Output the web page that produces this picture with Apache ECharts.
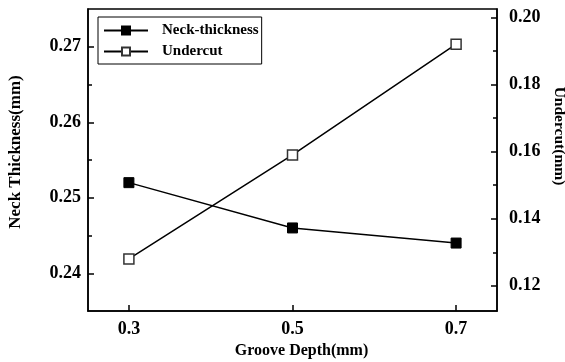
<!DOCTYPE html>
<html>
<head>
<meta charset="utf-8">
<script src="https://cdn.jsdelivr.net/npm/echarts@6/dist/echarts.min.js"></script>
<style>html,body{margin:0;padding:0;background:#fff}#c{width:565px;height:362px}</style>
</head>
<body>
<div id="c"></div>
<script>
const depths = [0.3, 0.5, 0.7];
const neckThickness = [0.252, 0.246, 0.244];
const undercut = [0.128, 0.159, 0.192];
const xTicks = [0.3, 0.5, 0.7];
const leftTicks = [0.24, 0.25, 0.26, 0.27];
const leftMinor = [0.245, 0.255, 0.265];
const rightTicks = [0.12, 0.14, 0.16, 0.18, 0.20];
const rightMinor = [0.13, 0.15, 0.17, 0.19];

const FONT = '"Liberation Serif", "Times New Roman", serif';
const lbl = {fontFamily: FONT, fontWeight: 'bold', fontSize: 18, color: '#000'};
const axLine = {show: true, lineStyle: {color: '#000', width: 1.5}};

const chart = echarts.init(document.getElementById('c'), null, {renderer: 'canvas'});
chart.setOption({
  animation: false,
  backgroundColor: '#fff',
  grid: {left: 88, right: 68, top: 9, bottom: 51, show: true, borderColor: '#000', borderWidth: 1.5, outerBoundsMode: 'none'},
  legend: {
    orient: 'vertical', left: 98, top: 17,
    itemWidth: 44, itemHeight: 10, itemGap: 6,
    padding: [6, 3, 5, 5],
    borderColor: '#000', borderWidth: 1,
    textStyle: {fontFamily: FONT, fontWeight: 'bold', fontSize: 15, color: '#000', padding: [0, 0, 0, 9]},
    data: ['Neck-thickness', 'Undercut']
  },
  xAxis: [{
    type: 'value', min: 0.25, max: 0.75, position: 'bottom',
    axisLine: axLine,
    axisTick: {show: true, inside: true, length: 6, customValues: xTicks, lineStyle: {color: '#000', width: 1.5}},
    axisLabel: Object.assign({customValues: xTicks, margin: 9, formatter: v => v.toFixed(1)}, lbl),
    splitLine: {show: false},
    name: 'Groove Depth(mm)', nameLocation: 'middle', nameGap: 31,
    nameTextStyle: {fontFamily: FONT, fontWeight: 'bold', fontSize: 16, color: '#000', padding: [0, 0, 0, 18]}
  }],
  yAxis: [{
    type: 'value', min: 0.235, max: 0.275, position: 'left',
    axisLine: axLine,
    axisTick: {show: true, inside: true, length: 6, customValues: leftTicks, lineStyle: {color: '#000', width: 1.5}},
    axisLabel: Object.assign({customValues: leftTicks, margin: 7, formatter: v => v.toFixed(2)}, lbl),
    splitLine: {show: false},
    name: 'Neck Thickness(mm)', nameLocation: 'middle', nameRotate: 90, nameGap: 64,
    nameTextStyle: {fontFamily: FONT, fontWeight: 'bold', fontSize: 17, color: '#000', padding: [0, 0, 0, 16]}
  }, {
    type: 'value', min: 0.1125, max: 0.2025, position: 'right',
    axisLine: axLine,
    axisTick: {show: true, inside: true, length: 6, customValues: rightTicks, lineStyle: {color: '#000', width: 1.5}},
    axisLabel: Object.assign({customValues: rightTicks, margin: 12, formatter: v => v.toFixed(2)}, lbl),
    splitLine: {show: false},
    name: 'Undercut(mm)', nameLocation: 'middle', nameRotate: -90, nameGap: 47,
    nameTextStyle: {fontFamily: FONT, fontWeight: 'bold', fontSize: 15.5, color: '#000', padding: [0, 48, 0, 0]}
  }, {
    type: 'value', min: 0.235, max: 0.275, position: 'left',
    axisLine: {show: false},
    axisTick: {show: true, inside: true, length: 4, customValues: leftMinor, lineStyle: {color: '#000', width: 1.5}},
    axisLabel: {show: false}, splitLine: {show: false}
  }, {
    type: 'value', min: 0.1125, max: 0.2025, position: 'right',
    axisLine: {show: false},
    axisTick: {show: true, inside: true, length: 4, customValues: rightMinor, lineStyle: {color: '#000', width: 1.5}},
    axisLabel: {show: false}, splitLine: {show: false}
  }],
  series: [{
    name: 'Neck-thickness', type: 'line', yAxisIndex: 0,
    data: depths.map((d, i) => [d, neckThickness[i]]),
    symbol: 'rect', symbolSize: 10,
    itemStyle: {color: '#000', borderColor: '#000', borderWidth: 1},
    lineStyle: {color: '#000', width: 1.5}
  }, {
    name: 'Undercut', type: 'line', yAxisIndex: 1,
    data: depths.map((d, i) => [d, undercut[i]]),
    symbol: 'rect', symbolSize: 10,
    itemStyle: {color: '#fff', borderColor: '#333', borderWidth: 1.5},
    lineStyle: {color: '#000', width: 1.5}
  }]
});
</script>
</body>
</html>
